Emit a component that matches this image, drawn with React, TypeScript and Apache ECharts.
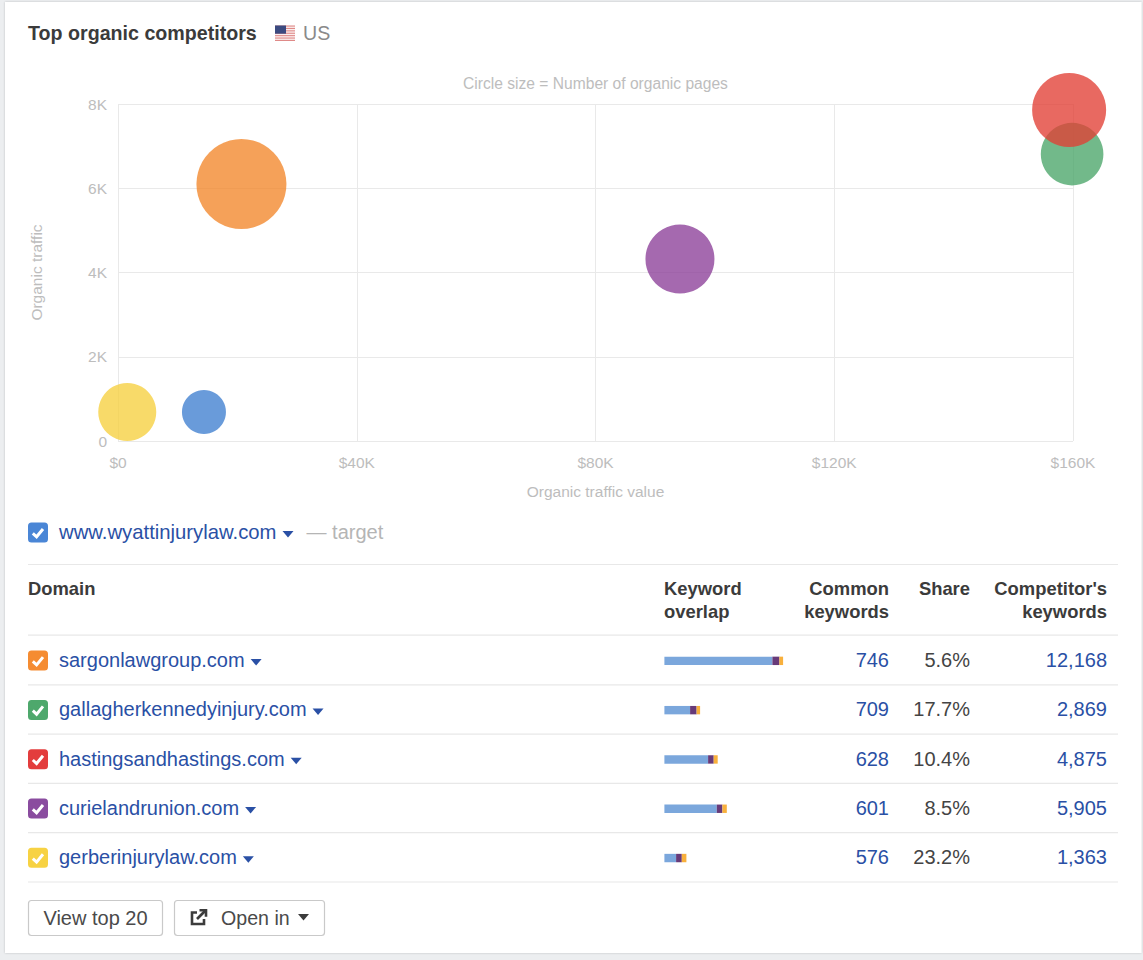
import React, { useEffect, useRef } from "react";
import * as echarts from "echarts";

const FONT = '"Liberation Sans", Arial, sans-serif';

const domains = ["sargonlawgroup.com", "gallagherkennedyinjury.com", "hastingsandhastings.com", "curielandrunion.com", "gerberinjurylaw.com"];
const targetDomain = "www.wyattinjurylaw.com";
const commonKeywords = [746, 709, 628, 601, 576];
const sharePercent = [5.6, 17.7, 10.4, 8.5, 23.2];
const competitorKeywords = [12168, 2869, 4875, 5905, 1363];
const overlapCompetitorOnly = [10800, 2570, 4370, 5240, 1170];
const overlapCommon = [700, 650, 560, 560, 570];
const overlapTargetOnly = [370, 350, 400, 440, 460];

const bubbleNames = ["yellow", "blue", "orange", "purple", "green", "red"];
const trafficValue = [1550, 14400, 20680, 94150, 159850, 159350];
const organicTraffic = [690, 690, 6100, 4320, 6810, 7860];
const organicPages = [841, 484, 2025, 1190, 980, 1369];
const bubbleColors = ["#f6cf3f", "#3f7fd0", "#f2862a", "#8c3f98", "#4aa569", "#e13f35"];

const xTicks = [0, 40000, 80000, 120000, 160000];
const yTicks = [0, 2000, 4000, 6000, 8000];
const rowColors = ["#f58c32", "#4ea86c", "#e33d3d", "#8a4c9f", "#f7d243"];

const rowCenter = (i: number) => 660.6 + i * 49.3;
const TEXT_SHIFT = -0.7;
const measure = (text: string, font: string) => {
  const ctx = document.createElement("canvas").getContext("2d")!;
  ctx.font = font;
  return ctx.measureText(text).width;
};
const label = (x: number, y: number, text: string, fill: string, size: number, align = "left", weight = "normal") => ({
  type: "text",
  x,
  y: y + TEXT_SHIFT,
  silent: true,
  style: { text, fill, fontSize: size, fontFamily: FONT, fontWeight: weight, align, verticalAlign: "middle" },
});
const checkbox = (y: number, color: string) => ({
  type: "group",
  x: 28,
  y: y - 10,
  children: [
    { type: "rect", shape: { x: 0, y: 0, width: 20, height: 20, r: 3.5 }, style: { fill: color } },
    { type: "polyline", shape: { points: [[4.8, 10.8], [8.6, 14.3], [15, 6.5]] }, style: { stroke: "#fff", lineWidth: 3, fill: "none" } },
  ],
});
const caret = (x: number, y: number, color: string, w = 11) => ({
  type: "polygon",
  shape: { points: [[x, y - 3], [x + w, y - 3], [x + w / 2, y + 3.5]] },
  style: { fill: color },
});
const rule = (y: number) => ({
  type: "line",
  shape: { x1: 28, y1: y, x2: 1118, y2: y },
  style: { stroke: "#e8e8e8", lineWidth: 1.2 },
});

function buildGraphics() {
  const link = "#2a50a5";
  const dark = "#3b3b3b";
  const items: any[] = [
    { type: "rect", z: -10, shape: { x: 5, y: 2, width: 1136.5, height: 951 }, style: { fill: "#fff", shadowBlur: 2, shadowColor: "rgba(0,0,0,0.2)" } },
    label(28, 33.5, "Top organic competitors", dark, 19.65, "left", "bold"),
    label(303, 33.5, "US", "#8a8a8a", 19.6),
    label(595.5, 84, "Circle size = Number of organic pages", "#bdbdbd", 15.6, "center"),
  ];
  const flagStripes = [0, 1, 2, 3, 4, 5, 6];
  const flag: any[] = [{ type: "rect", shape: { x: 0, y: 0, width: 20, height: 15.5 }, style: { fill: "#fbeeee" } }];
  flagStripes.forEach((s) => flag.push({ type: "rect", shape: { x: 0, y: s * 2.4, width: 20, height: 1.1 }, style: { fill: "#df8a88" } }));
  flag.push({ type: "rect", shape: { x: 0, y: 0, width: 11, height: 8.2 }, style: { fill: "#3b4a80" } });
  items.push({ type: "group", x: 275, y: 25.5, children: flag });

  items.push(checkbox(532.5, "#4a86d6"));
  items.push(label(59, 532.5, targetDomain, link, 20.3));
  const tw = measure(targetDomain, `20.3px ${FONT}`);
  items.push(caret(59 + tw + 6, 534, link));
  items.push(label(59 + tw + 30, 532.5, "— target", "#b5b5b5", 20));

  items.push(rule(564.5), rule(635.2));
  items.push(label(28, 589, "Domain", dark, 18.4, "left", "bold"));
  items.push(label(664, 589, "Keyword", dark, 18.4, "left", "bold"), label(664, 612, "overlap", dark, 18.4, "left", "bold"));
  items.push(label(889, 589, "Common", dark, 18.4, "right", "bold"), label(889, 612, "keywords", dark, 18.4, "right", "bold"));
  items.push(label(970, 589, "Share", dark, 18.4, "right", "bold"));
  items.push(label(1107, 589, "Competitor's", dark, 18.4, "right", "bold"), label(1107, 612, "keywords", dark, 18.4, "right", "bold"));

  domains.forEach((d, i) => {
    const y = rowCenter(i);
    items.push(checkbox(y, rowColors[i]));
    items.push(label(59, y, d, link, 20));
    items.push(caret(59 + measure(d, `20px ${FONT}`) + 6, y + 1.5, link));
    items.push(label(889, y, String(commonKeywords[i]), link, 20, "right"));
    items.push(label(970, y, `${sharePercent[i].toFixed(1)}%`, "#444", 20, "right"));
    items.push(label(1107, y, competitorKeywords[i].toLocaleString("en-US"), link, 20, "right"));
    items.push(rule(y + 24.2));
  });

  const btn = { fill: "#fff", stroke: "#c9c9c9", lineWidth: 1.2 };
  items.push({ type: "rect", shape: { x: 28.5, y: 900.5, width: 134, height: 35, r: 3 }, style: btn });
  items.push(label(95.5, 918.5, "View top 20", "#4a4a4a", 20, "center"));
  items.push({ type: "rect", shape: { x: 174.5, y: 900.5, width: 150, height: 35, r: 3 }, style: btn });
  items.push({ type: "polyline", shape: { points: [[197, 912.5], [192, 912.5], [192, 924], [204, 924], [204, 919]] }, style: { stroke: "#3c3c3c", lineWidth: 2.6, fill: "none" } });
  items.push({ type: "line", shape: { x1: 197, y1: 919, x2: 205, y2: 911 }, style: { stroke: "#3c3c3c", lineWidth: 2.6 } });
  items.push({ type: "polyline", shape: { points: [[199.5, 910.3], [206, 910.3], [206, 916.8]] }, style: { stroke: "#3c3c3c", lineWidth: 2.6, fill: "none" } });
  items.push(label(221, 918.5, "Open in", "#4a4a4a", 19.6));
  items.push(caret(298, 917, "#3c3c3c", 11));
  return items;
}

const kFormat = (v: number) => (v === 0 ? "0" : `${v / 1000}K`);

export default function App() {
  const ref = useRef<HTMLDivElement>(null);
  useEffect(() => {
    document.body.style.margin = "0";
    const chart = echarts.init(ref.current!, undefined, { renderer: "svg" });
    const axisText = { color: "#bdbdbd", fontSize: 15.5, fontFamily: FONT };
    const splitLine = { show: true, lineStyle: { color: "#e9e9e9", width: 1 } };
    chart.setOption({
      animation: false,
      backgroundColor: "#eceef0",
      grid: [
        { left: 118, top: 104, width: 955, height: 337 },
        { left: 664.4, top: 636.2, width: 120, height: 246.5 },
      ],
      xAxis: [
        {
          type: "value", gridIndex: 0, min: 0, max: 160000, interval: 40000,
          name: "Organic traffic value", nameLocation: "middle", nameGap: 42,
          nameTextStyle: { ...axisText },
          axisLine: { show: false }, axisTick: { show: false }, splitLine,
          axisLabel: { ...axisText, margin: 13, formatter: (v: number) => (v === 0 ? "$0" : `$${v / 1000}K`), customValues: xTicks },
        },
        { type: "value", gridIndex: 1, min: 0, max: 12000, show: false },
      ],
      yAxis: [
        {
          type: "value", gridIndex: 0, min: 0, max: 8000, interval: 2000,
          name: "Organic traffic", nameLocation: "middle", nameGap: 74,
          nameTextStyle: { ...axisText },
          axisLine: { show: false }, axisTick: { show: false }, splitLine,
          axisLabel: { ...axisText, margin: 11, formatter: kFormat, customValues: yTicks },
        },
        { type: "category", gridIndex: 1, inverse: true, data: domains, show: false },
      ],
      series: [
        ...bubbleNames.map((name, i) => ({
          name,
          type: "scatter",
          xAxisIndex: 0,
          yAxisIndex: 0,
          clip: false,
          silent: true,
          z: 3 + i,
          data: [[trafficValue[i], organicTraffic[i], organicPages[i]]],
          symbolSize: (d: number[]) => 2 * Math.sqrt(d[2]),
          itemStyle: { color: bubbleColors[i], opacity: 0.78 },
        })),
        ...[
          { name: "competitor", data: overlapCompetitorOnly, color: "#7ba7dc" },
          { name: "common", data: overlapCommon, color: "#673a79" },
          { name: "target", data: overlapTargetOnly, color: "#f8b03c" },
        ].map((s) => ({
          name: s.name,
          type: "bar",
          xAxisIndex: 1,
          yAxisIndex: 1,
          stack: "overlap",
          barWidth: 8.4,
          silent: true,
          data: s.data,
          itemStyle: { color: s.color },
        })),
      ],
      graphic: buildGraphics(),
    });
    return () => chart.dispose();
  }, []);
  return <div ref={ref} style={{ width: 1143, height: 960 }} />;
}
